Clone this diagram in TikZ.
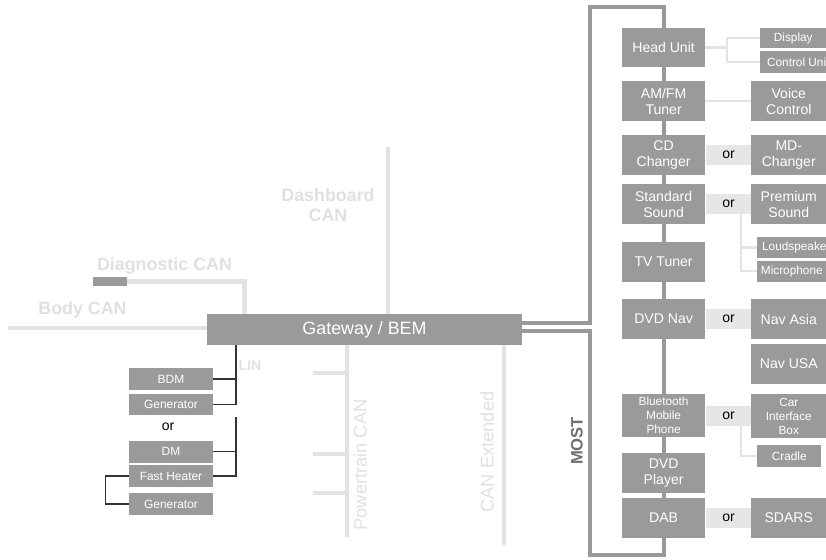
\documentclass[tikz,border=0pt]{standalone}
\usepackage{fontspec}
\setmainfont{Liberation Sans}
\usetikzlibrary{positioning}
\definecolor{boxGray}{HTML}{9A9A9A}
\definecolor{busGray}{HTML}{E3E3E3}
\definecolor{orGray}{HTML}{E6E6E6}
\definecolor{mostGray}{HTML}{999999}
\definecolor{labelGray}{HTML}{E0E0E0}
\definecolor{mostText}{HTML}{6E6E6E}
\definecolor{linBlack}{HTML}{333333}

\begin{document}
\begin{tikzpicture}[
  ecu/.style={fill=boxGray, text=white, minimum width=2.075cm, minimum height=1cm,
              align=center, inner sep=1pt, font=\fontsize{10}{11.4}\selectfont},
  opt/.style={ecu, anchor=west, minimum width=1.875cm},
  minor/.style={ecu, anchor=west, minimum height=0.525cm, font=\fontsize{8.4}{10}\selectfont},
  linecu/.style={ecu, minimum width=2.1cm, minimum height=0.55cm, font=\fontsize{8.5}{10}\selectfont},
  orband/.style={fill=orGray, minimum width=1.15cm, minimum height=0.5cm, inner sep=0pt,
                 font=\fontsize{10}{12}\selectfont},
  bus/.style={draw=busGray, line width=3.5pt},
  stub/.style={draw=busGray, line width=1.5pt},
  most/.style={draw=mostGray, line width=2.8pt},
  lin/.style={draw=linBlack, line width=0.9pt},
  buslabel/.style={text=labelGray, font=\fontsize{12.7}{14.2}\selectfont\bfseries, align=center},
  sidelabel/.style={text=labelGray, font=\fontsize{13}{15}\selectfont, rotate=90},
]
  \useasboundingbox (0,0) rectangle (20.65,-13.975);

  % gateway and the CAN buses
  \node[ecu, minimum width=7.875cm, minimum height=0.775cm, font=\fontsize{12.7}{14}\selectfont]
    (gw) at (9.1125,-8.2375) {Gateway / BEM};
  \node[fill=boxGray, minimum width=0.85cm, minimum height=0.225cm, inner sep=0pt] (diag) at (2.75,-7.0375) {};

  \coordinate (bodyend) at (0.2,-8.2);
  \coordinate (dashtop) at (9.7,-3.675);
  \coordinate (ptbot) at (8.675,-13.425);
  \coordinate (extbot) at (12.6,-13.625);
  \draw[bus] (bodyend) -- (gw.west |- bodyend);
  \draw[bus] (diag.east) -| ([xshift=0.95cm]gw.north west);
  \draw[bus] (dashtop) -- (dashtop |- gw.north);
  \draw[bus] (ptbot |- gw.south) -- (ptbot);
  \foreach \y in {-9.325,-11.35,-12.325}
    \draw[bus] (7.825,\y) -- (ptbot |- 0,\y);
  \draw[bus] (extbot |- gw.south) -- (extbot);

  \node[buslabel] (bodylbl) at (2.0625,-7.75) {Body CAN};
  \node[buslabel] (diaglbl) at (4.1125,-6.65) {Diagnostic CAN};
  \node[buslabel] (dashlbl) at (8.2,-5.125) {Dashboard\\CAN};
  \node[sidelabel] (ptlbl) at (9.0,-11.625) {Powertrain CAN};
  \node[sidelabel] (extlbl) at (12.175,-11.3) {CAN Extended};
  \node[text=mostText, font=\fontsize{11.8}{13}\selectfont\bfseries, rotate=90] (mostlbl) at (14.425,-11.025) {MOST};
  \node[text=labelGray, font=\fontsize{10}{12}\selectfont\bfseries] (linlbl) at (6.25,-9.15) {LIN};

  % LIN nodes
  \node[linecu] (bdm) at (4.275,-9.475) {BDM};
  \node[linecu, minimum height=0.525cm] (gen1) at (4.275,-10.1125) {Generator};
  \node[font=\fontsize{10}{12}\selectfont] (lor) at (4.2,-10.675) {or};
  \node[linecu] (dm) at (4.275,-11.2875) {DM};
  \node[linecu] (fh) at (4.275,-11.9) {Fast Heater};
  \node[linecu] (gen2) at (4.275,-12.6) {Generator};

  \coordinate (lin1) at (5.9,-8.625);
  \coordinate (lin2) at (5.9,-10.425);
  \draw[lin] (lin1) |- (gen1.east);
  \draw[lin] (bdm.east) -- (bdm.east -| lin1);
  \draw[lin] (lin2) |- (fh.east);
  \draw[lin] (dm.east) -- (dm.east -| lin2);
  \draw[lin] (fh.west) -- ++(-0.575,0) |- (gen2.west);

  % MOST ring devices
  \node[ecu, minimum height=0.975cm] (hu) at (16.59,-1.1875) {Head Unit};
  \node[ecu] (amfm) at (16.59,-2.525) {AM/FM\\Tuner};
  \node[ecu] (cd) at (16.59,-3.875) {CD\\Changer};
  \node[ecu] (std) at (16.59,-5.1) {Standard\\Sound};
  \node[ecu] (tv) at (16.59,-6.55) {TV Tuner};
  \node[ecu] (dvdnav) at (16.59,-7.975) {DVD Nav};
  \node[ecu, minimum height=1.075cm, font=\fontsize{8.4}{10}\selectfont] (bt) at (16.59,-10.3875) {Bluetooth\\Mobile\\Phone};
  \node[ecu] (dvdp) at (16.59,-11.825) {DVD\\Player};
  \node[ecu] (dab) at (16.59,-12.95) {DAB};

  % alternatives
  \node[orband, right=0pt of cd] (cdor) {or};
  \node[orband, right=0pt of std] (stdor) {or};
  \node[orband, right=0pt of dvdnav] (navor) {or};
  \node[orband, right=0pt of bt] (btor) {or};
  \node[orband, right=0pt of dab] (dabor) {or};

  \node[opt] (voice) at (18.775,-2.525) {Voice\\Control};
  \node[opt] (mdch) at (18.775,-3.875) {MD-\\Changer};
  \node[opt] (prem) at (18.775,-5.1) {Premium\\Sound};
  \node[opt] (navasia) at (18.775,-7.975) {Nav Asia};
  \node[opt] (navusa) at (18.775,-9.1) {Nav USA};
  \node[opt, minimum height=1.1cm, font=\fontsize{8.4}{10}\selectfont] (carif) at (18.775,-10.4) {Car\\Interface\\Box};
  \node[opt] (sdars) at (18.775,-12.95) {SDARS};

  \node[minor, minimum width=1.65cm, minimum height=0.5cm] (disp) at (19.0,-0.95) {Display};
  \node[minor, minimum width=1.9cm, minimum height=0.55cm] (cu) at (19.0,-1.55) {Control Unit};
  \node[minor, minimum width=1.95cm] (loud) at (18.925,-6.1875) {Loudspeaker};
  \node[minor, minimum width=1.725cm] (mic) at (18.925,-6.775) {Microphone};
  \node[minor, minimum width=1.6cm, minimum height=0.55cm] (cradle) at (18.925,-11.4) {Cradle};

  % side connections
  \coordinate (hub) at (18.175,-1.1875);
  \draw[stub] (hu.east) -- (hub);
  \draw[stub] (disp.west) -| (hub) |- (cu.west);
  \draw[stub] (amfm.east) -- (voice.west);
  \draw[stub] ([xshift=0.3cm]stdor.south) |- (loud.west);
  \draw[stub] ([xshift=0.3cm]stdor.south) |- (mic.west);
  \draw[stub] ([xshift=0.3cm]btor.south) |- (cradle.west);

  % MOST ring
  \coordinate (mostA) at (14.75,-8.075);
  \coordinate (mostB) at (14.75,-8.275);
  \coordinate (mostTop) at (14.75,-0.175);
  \coordinate (mostBot) at (14.75,-13.875);
  \draw[most] (gw.east |- mostA) -| (mostTop) -| (hu.north);
  \draw[most] (gw.east |- mostB) -| (mostBot) -| (dab.south);
  \foreach \a/\b in {hu/amfm, amfm/cd, cd/std, std/tv, tv/dvdnav, dvdnav/bt, bt/dvdp, dvdp/dab}
    \draw[most] (\a.south) -- (\b.north);
\end{tikzpicture}
\end{document}
